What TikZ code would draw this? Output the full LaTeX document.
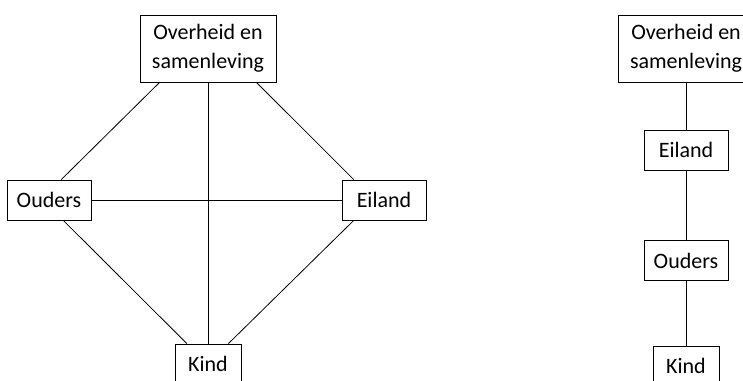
\documentclass[tikz,border=0pt]{standalone}
\usepackage{fontspec}
\setmainfont{Carlito}
\usepackage{tikz}

\begin{document}
\begin{tikzpicture}[x=0.5pt,y=-0.5pt,every rectangle node/.style={draw,inner sep=0pt,font=\fontsize{11}{14.5}\selectfont,align=center},
    wide/.style={minimum width=68pt,minimum height=33.5pt},
    mid/.style={minimum width=42pt,minimum height=20pt},
    small/.style={minimum width=33pt,minimum height=20pt}]
    \useasboundingbox (0,0) rectangle (743,380);
    % left: everyone linked
    \node[wide] (gov) at (208,48.5) {Overheid en\\samenleving};
    \node[mid] (par) at (49,200) {Ouders};
    \node[mid] (isl) at (384,200) {Eiland};
    \node[small] (kid) at (208,364) {Kind};
    \draw (gov.215) edge (par.59) ;
    \draw (gov.325) edge (isl.146) ;
    \draw (gov.south) edge (kid.north) ;
    \draw (par.east) edge (isl.west) ;
    \draw (par.-55) edge (kid.136) ;
    \draw (isl.214) edge (kid.45) ;
    % right: a chain
    \node[wide] (gov2) at (686,48.5) {Overheid en\\samenleving};
    \node[mid] (isl2) at (686,150) {Eiland};
    \node[mid] (par2) at (686,260.5) {Ouders};
    \node[small] (kid2) at (686,366) {Kind};
    \draw (gov2) edge (isl2) ;
    \draw (isl2) edge (par2) ;
    \draw (par2) edge (kid2) ;
\end{tikzpicture}
\end{document}
